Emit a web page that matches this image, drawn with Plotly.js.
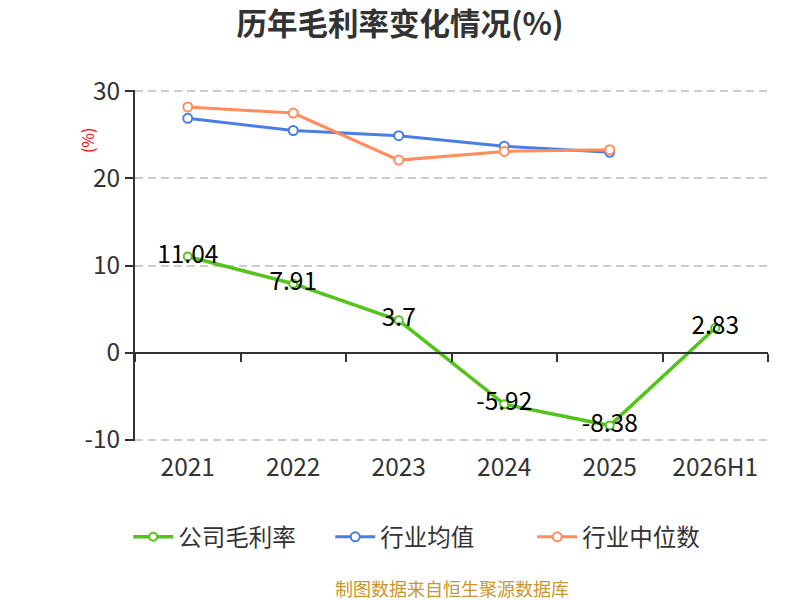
<!DOCTYPE html>
<html>
<head>
<meta charset="utf-8">
<script src="https://cdn.plot.ly/plotly-3.0.1.min.js"></script>
<style>html,body{margin:0;padding:0;background:#fff;}#chart{width:800px;height:600px;}</style>
</head>
<body>
<div id="chart"></div>
<script>
var categories = ["2021", "2022", "2023", "2024", "2025", "2026H1"];
var companyMargin = [11.04, 7.91, 3.7, -5.92, -8.38, 2.83];
var industryMean = [26.9, 25.5, 24.9, 23.7, 23.0];
var industryMedian = [28.2, 27.5, 22.1, 23.1, 23.3];
var seriesNames = ["公司毛利率", "行业均值", "行业中位数"];
var yTickValues = [-10, 0, 10, 20, 30];
var yTickLabels = ["-10", "0", "10", "20", "30"];

var FONT = '"Noto Sans CJK SC", "Noto Sans", sans-serif';
var GREEN = '#52C41A', BLUE = '#4A7EE4', ORANGE = '#FF8C5A';
var Y_MIN = -10.15, Y_MAX = 30.15;

var traces = [
  {
    x: categories, y: companyMargin, name: seriesNames[0], type: 'scatter',
    mode: 'lines+markers+text',
    text: companyMargin.map(String), textposition: 'middle center',
    textfont: {family: FONT, size: 24.5, color: '#000'},
    line: {color: GREEN, width: 3.5},
    marker: {size: 8, color: '#fff', line: {color: GREEN, width: 2}}
  },
  {
    x: categories.slice(0, industryMean.length), y: industryMean, name: seriesNames[1], type: 'scatter',
    mode: 'lines+markers',
    line: {color: BLUE, width: 3},
    marker: {size: 9, color: '#fff', line: {color: BLUE, width: 2}}
  },
  {
    x: categories.slice(0, industryMedian.length), y: industryMedian, name: seriesNames[2], type: 'scatter',
    mode: 'lines+markers',
    line: {color: ORANGE, width: 3},
    marker: {size: 9, color: '#fff', line: {color: ORANGE, width: 2}}
  },
  {
    // invisible carrier so the zero-level category axis is drawn
    x: categories, y: companyMargin, xaxis: 'x2', type: 'scatter', mode: 'none',
    showlegend: false, hoverinfo: 'skip'
  }
];

var layout = {
  width: 800, height: 600,
  margin: {l: 135, r: 32, t: 90, b: 159},
  paper_bgcolor: '#fff', plot_bgcolor: '#fff',
  font: {family: FONT, color: '#333'},
  title: {text: '<b>历年毛利率变化情况(%)</b>', x: 0.5, xanchor: 'center', y: 0.96, yanchor: 'middle',
          font: {family: FONT, size: 30.5, color: '#333'}},
  xaxis: {
    type: 'category', range: [-0.5, 5.5], showline: false, showgrid: false, zeroline: false,
    ticks: '', tickfont: {family: FONT, size: 24.5, color: '#333'}, ticklabelstandoff: 9, fixedrange: true
  },
  xaxis2: {
    overlaying: 'x', anchor: 'free', position: (0 - Y_MIN) / (Y_MAX - Y_MIN), type: 'category', range: [-0.5, 5.5],
    showline: true, linecolor: '#333', linewidth: 2, showgrid: false, zeroline: false,
    ticks: 'outside', tickson: 'boundaries', ticklen: 8, tickwidth: 2, tickcolor: '#333',
    showticklabels: false, fixedrange: true
  },
  yaxis: {
    range: [Y_MIN, Y_MAX], tickmode: 'array', tickvals: yTickValues, ticktext: yTickLabels,
    showline: true, linecolor: '#333', linewidth: 2,
    ticks: 'outside', ticklen: 8, tickwidth: 2, tickcolor: '#333',
    showgrid: true, gridcolor: '#ccc', griddash: '8px,5px', gridwidth: 2,
    zeroline: false, tickfont: {family: FONT, size: 24.5, color: '#333'}, fixedrange: true
  },
  showlegend: true,
  legend: {orientation: 'h', x: 0.468, xanchor: 'center', y: -0.2735, yanchor: 'middle',
           font: {family: FONT, size: 23.5, color: '#333'}, itemwidth: 40,
           entrywidth: 147, entrywidthmode: 'pixels'},
  annotations: [
    {text: '(%)', xref: 'paper', yref: 'paper', x: -0.098, y: 0.9, showarrow: false,
     textangle: -90, font: {family: FONT, size: 16, color: '#f00'}},
    {text: '制图数据来自恒生聚源数据库', xref: 'paper', yref: 'paper', x: 0.5, y: -0.42,
     xanchor: 'center', yanchor: 'middle', showarrow: false,
     font: {family: FONT, size: 18, color: '#C9962C'}}
  ]
};

Plotly.newPlot('chart', traces, layout, {displayModeBar: false, staticPlot: true});
</script>
</body>
</html>
